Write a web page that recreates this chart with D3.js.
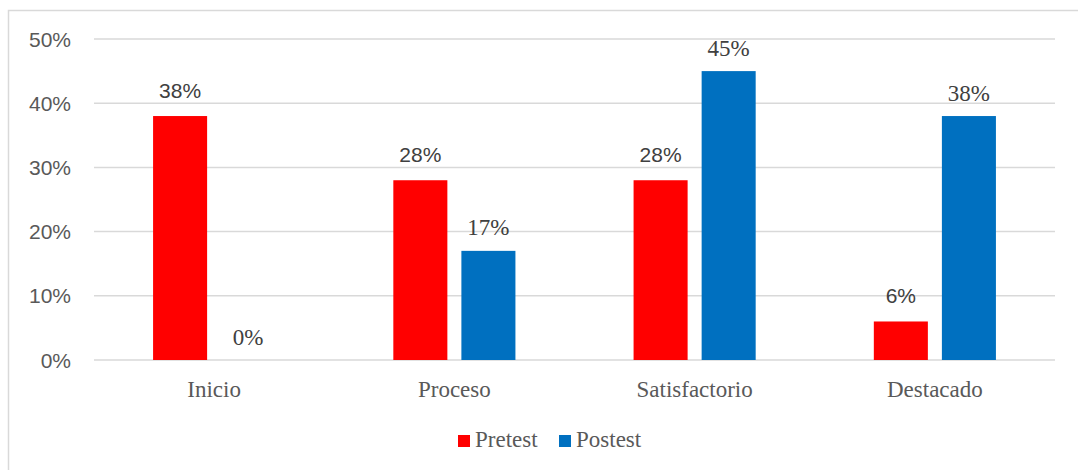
<!DOCTYPE html>
<html>
<head>
<meta charset="utf-8">
<script src="https://cdn.jsdelivr.net/npm/d3@7"></script>
<style>
  body { margin: 0; background: #fff; }
  svg { display: block; }
  .sans { font-family: "Liberation Sans", Arial, sans-serif; }
  .serif { font-family: "Liberation Serif", "Times New Roman", serif; }
</style>
</head>
<body>
<div id="chart"></div>
<script>
var categories = ["Inicio", "Proceso", "Satisfactorio", "Destacado"];
var seriesNames = ["Pretest", "Postest"];
var pretest = [38, 28, 28, 6];
var postest = [0, 17, 45, 38];
var yTicks = [0, 10, 20, 30, 40, 50];
var colors = ["#FF0000", "#0070C0"];

var width = 1078, height = 470;
var svg = d3.select("#chart").append("svg")
    .attr("width", width)
    .attr("height", height);

// chart frame
svg.append("rect")
    .attr("x", 8.5).attr("y", 10.5)
    .attr("width", width + 20).attr("height", height + 20)
    .attr("fill", "none")
    .attr("stroke", "#D9D9D9")
    .attr("stroke-width", 1.5);

var x0 = d3.scaleBand().domain(categories).range([94, 1055]);
var x1 = d3.scaleBand().domain(seriesNames)
    .range([0, x0.bandwidth()])
    .paddingInner(0.206)
    .paddingOuter(0.868);
var y = d3.scaleLinear().domain([0, 50]).range([360, 39]);

// gridlines
svg.append("g").selectAll("line")
    .data(yTicks)
    .enter().append("line")
    .attr("x1", 94).attr("x2", 1055)
    .attr("y1", function (d) { return y(d); })
    .attr("y2", function (d) { return y(d); })
    .attr("stroke", "#D9D9D9")
    .attr("stroke-width", 1.5);

// y tick labels
svg.append("g").selectAll("text")
    .data(yTicks)
    .enter().append("text")
    .attr("class", "sans")
    .attr("x", 71)
    .attr("y", function (d) { return y(d) + 7.5; })
    .attr("text-anchor", "end")
    .style("font-size", "21px")
    .attr("fill", "#595959")
    .text(function (d) { return d + "%"; });

// category labels
svg.append("g").selectAll("text")
    .data(categories)
    .enter().append("text")
    .attr("class", "serif")
    .attr("x", function (d) { return x0(d) + x0.bandwidth() / 2; })
    .attr("y", 397)
    .attr("text-anchor", "middle")
    .style("font-size", "23px")
    .attr("fill", "#595959")
    .text(function (d) { return d; });

var rows = categories.map(function (c, i) {
    return { cat: c, values: [pretest[i], postest[i]] };
});

var groups = svg.append("g").selectAll("g")
    .data(rows)
    .enter().append("g")
    .attr("transform", function (d) { return "translate(" + x0(d.cat) + ",0)"; });

function cells(d) {
    return d.values.map(function (v, j) { return { s: seriesNames[j], v: v, j: j }; });
}

groups.selectAll("rect")
    .data(cells)
    .enter().append("rect")
    .attr("x", function (d) { return x1(d.s); })
    .attr("y", function (d) { return y(d.v); })
    .attr("width", x1.bandwidth())
    .attr("height", function (d) { return y(0) - y(d.v); })
    .attr("fill", function (d) { return colors[d.j]; });

// data labels: pretest in sans, postest in serif
groups.selectAll("text")
    .data(cells)
    .enter().append("text")
    .attr("class", function (d) { return d.j === 0 ? "sans" : "serif"; })
    .attr("x", function (d) { return x1(d.s) + x1.bandwidth() / 2; })
    .attr("y", function (d) { return y(d.v) - (d.j === 0 ? 18 : 15.5); })
    .attr("text-anchor", "middle")
    .style("font-size", function (d) { return d.j === 0 ? "21px" : "23px"; })
    .attr("fill", "#404040")
    .text(function (d) { return d.v + "%"; });

// legend
var legendX = [458, 559];
var legend = svg.append("g").selectAll("g")
    .data(seriesNames)
    .enter().append("g")
    .attr("transform", function (d, i) { return "translate(" + legendX[i] + ",435)"; });

legend.append("rect")
    .attr("width", 12).attr("height", 12)
    .attr("fill", function (d, i) { return colors[i]; });

legend.append("text")
    .attr("class", "serif")
    .attr("x", 17)
    .attr("y", 12)
    .style("font-size", "23px")
    .attr("fill", "#595959")
    .text(function (d) { return d; });
</script>
</body>
</html>
